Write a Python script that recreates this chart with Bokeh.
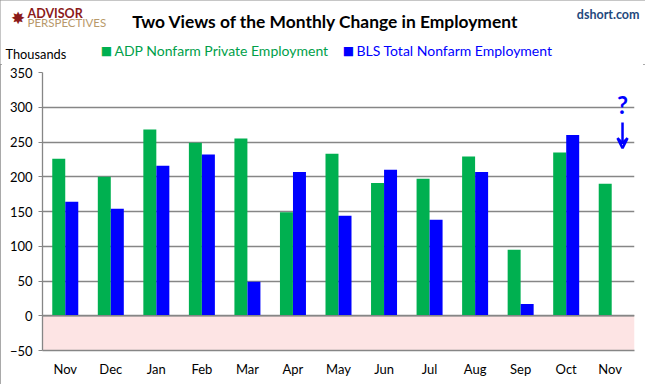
import math
from bokeh.plotting import figure
from bokeh.layouts import column
from bokeh.models import (ColumnDataSource, FactorRange, Range1d, FixedTicker, Label,
                          BoxAnnotation, Arrow, VeeHead, Span)
from bokeh.transform import dodge
from bokeh.embed import file_html
from bokeh.resources import INLINE

# ---- data ----
months = ["Nov", "Dec", "Jan", "Feb", "Mar", "Apr", "May", "Jun", "Jul", "Aug", "Sep", "Oct", "Nov "]
adp = [226, 200, 268, 249, 255, 149, 233, 191, 197, 229, 95, 235, 190]
bls = [164, 154, 216, 232, 49, 207, 144, 210, 138, 207, 17, 260, float("nan")]
y_ticks = [-50, 0, 50, 100, 150, 200, 250, 300, 350]

GREEN = "#00B050"
BLUE = "#0000FF"
GRAY = "#868686"
FONT = "Lato"

src = ColumnDataSource(dict(month=months, adp=adp, bls=bls))

W = 645
HEAD_H = 64
H = 384 - HEAD_H
FRAME_L, FRAME_R, FRAME_T, FRAME_B = 42, 634, 72 - HEAD_H, 350 - HEAD_H

# ---------------- header (titles, logo, legend) ----------------
head = figure(frame_width=W, frame_height=HEAD_H, output_backend="svg", toolbar_location=None,
              x_range=Range1d(0, W), y_range=Range1d(HEAD_H, 0),
              x_axis_type=None, y_axis_type=None, title=None,
              min_border_left=0, min_border_right=0, min_border_top=0, min_border_bottom=0)
head.grid.grid_line_color = None
head.outline_line_color = None
head.background_fill_color = "white"
head.border_fill_color = "white"
if hasattr(head, "frame_align"):
    head.frame_align = False


def lab(x, y, text, size, color, bold=False, align="left", font=FONT):
    head.add_layout(Label(x=x, y=y, text=text, text_font=font,
                          text_font_size=size, text_color=color,
                          text_font_style="bold" if bold else "normal",
                          text_align=align, text_baseline="middle"))


lab(325, 21, "Two Views of the Monthly Change in Employment", "17.4px", "black", bold=True, align="center")
lab(639, 14, "dshort.com", "12.5px", "#1F497D", bold=True, align="right")
lab(5, 53, "Thousands", "12.8px", "black")

# logo
lab(17.5, 17, "✸", "17px", "#8B1A1A", align="center", font="DejaVu Sans")
lab(27, 13, "ADVISOR", "12.5px", "#8B1A1A", bold=True)
lab(27, 22, "PERSPECTIVES", "11.5px", "#B8996A")

# legend
lab(106, 50, "■", "12px", GREEN, align="center", font="DejaVu Sans")
lab(114, 50, "ADP Nonfarm Private Employment", "14px", "#00A04A")
lab(348, 50, "■", "12px", BLUE, align="center", font="DejaVu Sans")
lab(356, 50, "BLS Total Nonfarm Employment", "14px", BLUE)

# ---------------- main chart ----------------
p = figure(width=W, height=H, output_backend="svg", toolbar_location=None,
           x_range=FactorRange(*months, range_padding=0), y_range=Range1d(-50, 350),
           min_border_left=FRAME_L, min_border_right=W - FRAME_R, min_border_top=FRAME_T,
           min_border_bottom=H - FRAME_B)
p.outline_line_color = None
p.background_fill_color = "white"
p.border_fill_color = "white"
if hasattr(p, "frame_align"):
    p.frame_align = False

p.add_layout(BoxAnnotation(bottom=-50, top=0, fill_color="#FDE4E4", fill_alpha=1,
                           line_color=None, level="image"))

p.vbar(x=dodge("month", -0.143, range=p.x_range), top="adp", width=0.285, source=src,
       fill_color=GREEN, line_color=None)
p.vbar(x=dodge("month", 0.143, range=p.x_range), top="bls", width=0.285, source=src,
       fill_color=BLUE, line_color=None)

p.add_layout(Span(location=0, dimension="width", line_color=GRAY, line_width=1.3))

p.xgrid.grid_line_color = None
p.ygrid.grid_line_color = GRAY
p.ygrid.grid_line_width = 1.3
p.yaxis.ticker = FixedTicker(ticks=y_ticks)
p.yaxis.axis_line_color = GRAY
p.yaxis.axis_line_width = 1.3
p.yaxis.major_tick_line_color = GRAY
p.yaxis.major_tick_out = 4
p.yaxis.major_tick_in = 0
p.yaxis.minor_tick_line_color = None
p.yaxis.major_label_text_font = FONT
p.yaxis.major_label_text_font_size = "13px"
p.yaxis.major_label_text_color = "black"
p.yaxis.major_label_standoff = 6

p.xaxis.axis_line_color = GRAY
p.xaxis.axis_line_width = 1.3
p.xaxis.major_tick_line_color = None
p.xaxis.minor_tick_line_color = None
p.xaxis.major_tick_out = 0
p.xaxis.major_tick_in = 0
p.xaxis.major_label_text_font = FONT
p.xaxis.major_label_text_font_size = "13px"
p.xaxis.major_label_text_color = "black"
p.xaxis.major_label_standoff = 10

xq = 12.737
p.add_layout(Label(x=xq, y=304, text="?", text_font=FONT, text_font_size="24px",
                   text_color=BLUE, text_font_style="bold", text_align="center",
                   text_baseline="middle"))
p.add_layout(Arrow(end=VeeHead(size=10, line_color=BLUE, line_width=2.5, fill_color=None),
                   x_start=xq, y_start=278, x_end=xq, y_end=241,
                   line_color=BLUE, line_width=2.5))

layout = column(head, p, spacing=0,
                styles={"outline": "2px solid #8c8c8c", "outline-offset": "-2px"})

open("out.html", "w").write(file_html(layout, INLINE))
